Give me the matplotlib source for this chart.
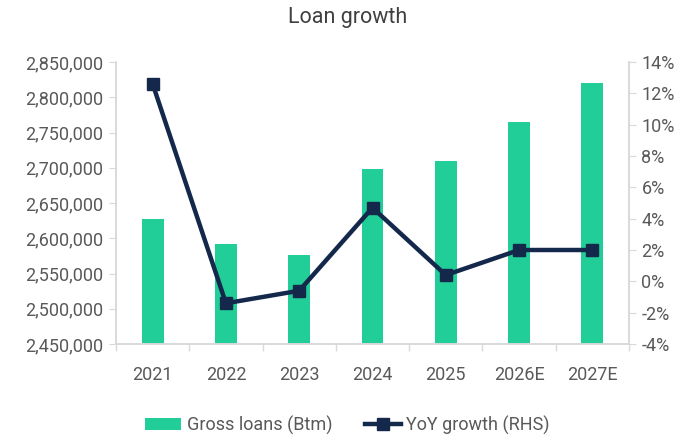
import matplotlib.pyplot as plt
import numpy as np
from matplotlib.ticker import FuncFormatter

plt.rcParams['font.family'] = ['Roboto', 'DejaVu Sans']

years = ["2021", "2022", "2023", "2024", "2025", "2026E", "2027E"]
gross_loans = [2628000, 2592000, 2576000, 2698000, 2710000, 2765000, 2820000]
yoy_growth = [12.6, -1.4, -0.6, 4.7, 0.4, 2.0, 2.0]

green = "#22CE97"
navy = "#14284B"
grey_txt = "#595959"
grey_line = "#D9D9D9"

fig = plt.figure(figsize=(6.95, 4.4), dpi=100)
ax = fig.add_axes([116 / 695, 1 - 344 / 440, (629 - 116) / 695, (344 - 62) / 440])
ax2 = ax.twinx()

x = np.arange(len(years))
bars = ax.bar(x, gross_loans, width=0.3, color=green, label="Gross loans (Btm)", zorder=2)
line, = ax2.plot(x, yoy_growth, color=navy, lw=3.2, marker="s", markersize=8,
                 label="YoY growth (RHS)", zorder=3)

ax.set_ylim(2450000, 2850000)
ax.set_yticks(np.arange(2450000, 2850001, 50000))
ax.yaxis.set_major_formatter(FuncFormatter(lambda v, p: f"{v:,.0f}"))
ax2.set_ylim(-4, 14)
ax2.set_yticks(np.arange(-4, 15, 2))
ax2.yaxis.set_major_formatter(FuncFormatter(lambda v, p: f"{v:.0f}%"))

ax.set_xlim(-0.5, len(years) - 0.5)
ax.set_xticks(np.arange(-0.5, len(years), 1.0))
ax.set_xticklabels([])
ax.set_xticks(x, minor=True)
ax.set_xticklabels(years, minor=True)
ax.tick_params(axis="x", which="major", length=5, color=grey_line, width=1)
ax.tick_params(axis="x", which="minor", length=0, pad=16, labelsize=13, labelcolor=grey_txt)

ax.tick_params(axis="y", length=5, color=grey_line, labelsize=13, labelcolor=grey_txt, pad=4)
ax2.tick_params(axis="y", length=5, color=grey_line, labelsize=13, labelcolor=grey_txt, pad=4)

for a in (ax, ax2):
    a.spines["top"].set_visible(False)
    for s in ("left", "right", "bottom"):
        a.spines[s].set_color(grey_line)
        a.spines[s].set_linewidth(1.2)

ax.set_zorder(ax2.get_zorder() - 1)
ax2.patch.set_visible(False)

fig.text(0.5, 1 - 18 / 440, "Loan growth", ha="center", va="center", fontsize=15.5, color="#404040")

fig.legend([bars, line], ["Gross loans (Btm)", "YoY growth (RHS)"], loc="center",
           bbox_to_anchor=(0.5, 1 - 425 / 440), ncol=2, frameon=False, fontsize=13,
           labelcolor=grey_txt, handlelength=2.0, handletextpad=0.3, columnspacing=1.8)

fig.savefig("out.png", dpi=100)
